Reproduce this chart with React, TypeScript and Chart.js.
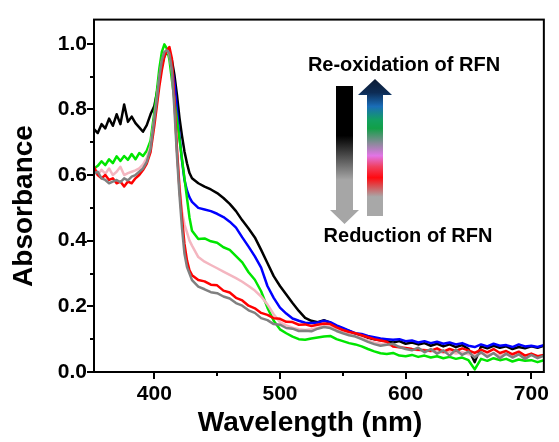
import React, { useEffect, useRef } from "react";
import { Chart, registerables } from "chart.js";

Chart.register(...registerables);

// ---------- data ----------
const wavelengths = [
  352, 355, 358, 361, 364, 367, 370, 373, 376, 379, 382, 385, 388, 391, 394, 397,
  400, 402, 404, 406, 408, 410, 412, 414, 416, 418, 420, 422, 424, 426, 428, 430,
  435, 440, 445, 450, 455, 460, 465, 470, 475, 480,
  485, 490, 495, 500, 505, 510, 515, 520, 525, 530,
  535, 540, 545, 550, 555, 560, 565, 570, 575, 580,
  585, 590, 595, 600, 605, 610, 615, 620, 625, 630,
  635, 640, 645, 650, 655, 660, 665, 670, 675, 680,
  685, 690, 695, 700, 705, 710,
];

const blackSeries = [
  0.74, 0.728, 0.755, 0.742, 0.772, 0.75, 0.785, 0.755, 0.815, 0.762, 0.778, 0.758, 0.745, 0.732, 0.752, 0.785,
  0.81, 0.85, 0.895, 0.935, 0.962, 0.975, 0.97, 0.95, 0.905, 0.845, 0.775, 0.72, 0.672, 0.636, 0.606, 0.59,
  0.575, 0.565, 0.556, 0.545, 0.53, 0.512, 0.49, 0.462, 0.437, 0.41,
  0.372, 0.332, 0.292, 0.262, 0.236, 0.21, 0.186, 0.165, 0.156, 0.152,
  0.158, 0.15, 0.14, 0.132, 0.125, 0.116, 0.112, 0.104, 0.1, 0.097,
  0.094, 0.09, 0.094, 0.086, 0.09, 0.084, 0.088, 0.08, 0.086, 0.078,
  0.084, 0.076, 0.082, 0.07, 0.03, 0.078, 0.072, 0.08, 0.074, 0.078,
  0.07, 0.076, 0.072, 0.078, 0.074, 0.08,
];

const blueSeries = [
  0.605, 0.61, 0.59, 0.585, 0.575, 0.58, 0.585, 0.578, 0.59, 0.584, 0.595, 0.6, 0.61, 0.62, 0.64, 0.68,
  0.77, 0.835, 0.9, 0.948, 0.972, 0.98, 0.965, 0.93, 0.88, 0.8, 0.72, 0.645, 0.585, 0.553, 0.532, 0.518,
  0.5, 0.495, 0.49, 0.482, 0.472, 0.458, 0.44, 0.41, 0.382, 0.352,
  0.318, 0.262, 0.226, 0.196, 0.178, 0.163, 0.156, 0.15, 0.149, 0.151,
  0.156, 0.152, 0.142, 0.134, 0.126, 0.118, 0.116, 0.11, 0.106, 0.102,
  0.1, 0.098, 0.1, 0.094, 0.096, 0.09, 0.094, 0.088, 0.092, 0.086,
  0.09, 0.084, 0.088, 0.08, 0.076, 0.084, 0.078, 0.086, 0.08, 0.082,
  0.076, 0.084, 0.078, 0.08, 0.076, 0.082,
];

const greenSeries = [
  0.62, 0.628, 0.642, 0.63, 0.648, 0.636, 0.657, 0.643, 0.658, 0.646, 0.664, 0.648, 0.667, 0.658, 0.674, 0.705,
  0.79, 0.855, 0.925, 0.975, 0.998, 0.985, 0.952, 0.89, 0.83, 0.77, 0.71, 0.65, 0.59, 0.53, 0.47, 0.43,
  0.405, 0.407, 0.398, 0.394, 0.38, 0.372, 0.353, 0.334, 0.304, 0.281,
  0.246, 0.196, 0.156, 0.13, 0.118, 0.108, 0.1, 0.098, 0.102, 0.105,
  0.108, 0.11, 0.1, 0.094, 0.088, 0.084, 0.078, 0.07, 0.063, 0.057,
  0.055, 0.058, 0.05, 0.048, 0.052, 0.046, 0.05, 0.044, 0.048, 0.042,
  0.046, 0.04, 0.044, 0.036, 0.008, 0.04, 0.034, 0.042, 0.036, 0.04,
  0.032, 0.038, 0.034, 0.036, 0.03, 0.036,
];

const pinkSeries = [
  0.61, 0.6, 0.616, 0.604, 0.62, 0.6, 0.61, 0.625, 0.6, 0.606, 0.61, 0.614, 0.62, 0.632, 0.652, 0.69,
  0.77, 0.83, 0.895, 0.945, 0.972, 0.98, 0.968, 0.92, 0.82, 0.68, 0.57, 0.49, 0.45, 0.425, 0.4, 0.385,
  0.35, 0.336, 0.326, 0.316, 0.306, 0.296, 0.286, 0.275, 0.262, 0.248,
  0.23, 0.206, 0.176, 0.152, 0.142, 0.135, 0.13, 0.128, 0.13, 0.134,
  0.14, 0.138, 0.128, 0.12, 0.114, 0.11, 0.104, 0.096, 0.09, 0.086,
  0.084, 0.08, 0.078, 0.072, 0.07, 0.066, 0.068, 0.062, 0.066, 0.058,
  0.062, 0.056, 0.06, 0.054, 0.05, 0.058, 0.052, 0.056, 0.05, 0.054,
  0.048, 0.054, 0.05, 0.052, 0.046, 0.052,
];

const redSeries = [
  0.625, 0.6, 0.59, 0.6, 0.585, 0.59, 0.575, 0.58, 0.565, 0.58, 0.575, 0.59, 0.6, 0.615, 0.635, 0.67,
  0.75, 0.81, 0.87, 0.92, 0.96, 0.98, 0.99, 0.955, 0.83, 0.68, 0.56, 0.47, 0.39, 0.34, 0.31, 0.295,
  0.28, 0.276, 0.266, 0.264, 0.248, 0.242, 0.226, 0.218, 0.202, 0.194,
  0.18, 0.174, 0.164, 0.162, 0.153, 0.152, 0.144, 0.145, 0.14, 0.144,
  0.148, 0.146, 0.136, 0.128, 0.122, 0.118, 0.112, 0.106, 0.1, 0.096,
  0.092, 0.078, 0.075, 0.073, 0.07, 0.068, 0.066, 0.065, 0.072, 0.062,
  0.07, 0.064, 0.072, 0.066, 0.058, 0.068, 0.06, 0.07, 0.058, 0.064,
  0.054, 0.062, 0.05, 0.056, 0.048, 0.052,
];

const graySeries = [
  0.605, 0.61, 0.59, 0.585, 0.575, 0.58, 0.585, 0.578, 0.59, 0.584, 0.595, 0.6, 0.61, 0.62, 0.64, 0.68,
  0.77, 0.83, 0.9, 0.95, 0.975, 0.98, 0.97, 0.92, 0.8, 0.66, 0.54, 0.44, 0.36, 0.32, 0.3, 0.28,
  0.26, 0.252, 0.243, 0.24, 0.23, 0.224, 0.21, 0.202, 0.188, 0.18,
  0.164, 0.158, 0.146, 0.144, 0.134, 0.132, 0.125, 0.126, 0.124, 0.132,
  0.137, 0.134, 0.125, 0.118, 0.112, 0.108, 0.1, 0.092, 0.085, 0.08,
  0.083, 0.086, 0.076, 0.07, 0.066, 0.074, 0.06, 0.07, 0.056, 0.066,
  0.05, 0.068, 0.052, 0.062, 0.044, 0.06, 0.046, 0.058, 0.042, 0.056,
  0.044, 0.054, 0.04, 0.052, 0.042, 0.05,
];

const xTickValues = [400, 500, 600, 700];
const xMinorTicks = [450, 550, 650];
const yTickValues = [0, 0.2, 0.4, 0.6, 0.8, 1.0];
const yMinorTicks = [0.1, 0.3, 0.5, 0.7, 0.9];

const xTitle = "Wavelength (nm)";
const yTitle = "Absorbance";
const upLabel = "Re-oxidation of RFN";
const downLabel = "Reduction of RFN";

const FONT = '"Liberation Sans", Arial, Helvetica, sans-serif';

const decorPlugin = {
  id: "decor",
  afterDraw(chart: any) {
    const ctx = chart.ctx as CanvasRenderingContext2D;
    const { left, right, top, bottom } = chart.chartArea;
    const xs = chart.scales.x;
    const ys = chart.scales.y;
    ctx.save();
    // frame
    ctx.strokeStyle = "#000";
    ctx.lineWidth = 2;
    ctx.strokeRect(left, top, right - left, bottom - top);
    // ticks
    ctx.beginPath();
    for (const v of xTickValues) {
      const px = Math.round(xs.getPixelForValue(v));
      ctx.moveTo(px, bottom);
      ctx.lineTo(px, bottom + 7);
    }
    for (const v of xMinorTicks) {
      const px = Math.round(xs.getPixelForValue(v));
      ctx.moveTo(px, bottom);
      ctx.lineTo(px, bottom + 4);
    }
    for (const v of yTickValues) {
      const py = Math.round(ys.getPixelForValue(v));
      ctx.moveTo(left, py);
      ctx.lineTo(left - 7, py);
    }
    for (const v of yMinorTicks) {
      const py = Math.round(ys.getPixelForValue(v));
      ctx.moveTo(left, py);
      ctx.lineTo(left - 4, py);
    }
    ctx.stroke();

    // axis titles
    ctx.fillStyle = "#000";
    ctx.font = `bold 28px ${FONT}`;
    ctx.textAlign = "center";
    ctx.textBaseline = "middle";
    ctx.fillText(xTitle, 310, 423);
    ctx.save();
    ctx.translate(24, 206);
    ctx.rotate(-Math.PI / 2);
    ctx.fillText(yTitle, 0, 0);
    ctx.restore();

    // down arrow (black -> gray)
    const dg = ctx.createLinearGradient(0, 86, 0, 224);
    dg.addColorStop(0, "#000000");
    dg.addColorStop(0.36, "#000000");
    dg.addColorStop(0.68, "#a6a6a6");
    dg.addColorStop(1, "#a6a6a6");
    ctx.fillStyle = dg;
    ctx.beginPath();
    ctx.moveTo(336, 86);
    ctx.lineTo(353, 86);
    ctx.lineTo(353, 210);
    ctx.lineTo(359, 210);
    ctx.lineTo(344.5, 224);
    ctx.lineTo(330, 210);
    ctx.lineTo(336, 210);
    ctx.closePath();
    ctx.fill();

    // up arrow (colour gradient)
    const ug = ctx.createLinearGradient(0, 79, 0, 216);
    ug.addColorStop(0, "#0b1a33");
    ug.addColorStop(0.1, "#0d2c55");
    ug.addColorStop(0.2, "#1a6db8");
    ug.addColorStop(0.3, "#12a060");
    ug.addColorStop(0.36, "#12a048");
    ug.addColorStop(0.47, "#8a8a9a");
    ug.addColorStop(0.56, "#e274e6");
    ug.addColorStop(0.64, "#f04060");
    ug.addColorStop(0.72, "#ff0a10");
    ug.addColorStop(0.86, "#a8a8a8");
    ug.addColorStop(1, "#a8a8a8");
    ctx.fillStyle = ug;
    ctx.beginPath();
    ctx.moveTo(367, 216);
    ctx.lineTo(383, 216);
    ctx.lineTo(383, 95);
    ctx.lineTo(392, 95);
    ctx.lineTo(375, 79);
    ctx.lineTo(358, 95);
    ctx.lineTo(367, 95);
    ctx.closePath();
    ctx.fill();

    // labels
    ctx.fillStyle = "#000";
    ctx.font = `bold 20px ${FONT}`;
    ctx.textAlign = "center";
    ctx.textBaseline = "middle";
    ctx.fillText(upLabel, 404, 65);
    ctx.fillText(downLabel, 408, 236);
    ctx.restore();
  },
};

function toPoints(series: number[]) {
  return wavelengths.map((x, i) => ({ x, y: series[i] }));
}

export default function App() {
  const canvasRef = useRef<HTMLCanvasElement | null>(null);

  useEffect(() => {
    document.body.style.margin = "0";
    const canvas = canvasRef.current;
    if (!canvas) return;
    const mk = (label: string, data: number[], color: string, extra: any = {}) => ({
      label,
      data: toPoints(data),
      borderColor: color,
      backgroundColor: color,
      borderWidth: 2.5,
      pointRadius: 0,
      tension: 0,
      fill: false,
      borderJoinStyle: "round" as const,
      ...extra,
    });
    const chart = new Chart(canvas, {
      type: "line",
      data: {
        datasets: [
          mk("gray", graySeries, "#808080"),
          mk("red", redSeries, "#ff0000"),
          mk("pink", pinkSeries, "#f4b6c0"),
          mk("green", greenSeries, "#00e600"),
          mk("blue", blueSeries, "#0000ff", {
            segment: {
              borderWidth: (c: any) => (c.p1.parsed.x <= 400 ? 1 : 2.5),
            },
          }),
          mk("black", blackSeries, "#000000"),
        ],
      },
      options: {
        animation: false,
        responsive: false,
        maintainAspectRatio: false,
        devicePixelRatio: 1,
        layout: { padding: { top: 7, right: 7, left: 0, bottom: 0 } },
        plugins: {
          legend: { display: false },
          tooltip: { enabled: false },
          title: { display: false },
        },
        scales: {
          x: {
            type: "linear",
            min: 352,
            max: 710,
            afterBuildTicks: (scale: any) => {
              scale.ticks = xTickValues.map((v) => ({ value: v }));
            },
            afterFit: (scale: any) => {
              scale.height = 70;
            },
            grid: { display: false, drawTicks: false },
            border: { display: false },
            ticks: {
              color: "#000",
              font: { family: FONT, size: 21, weight: "bold" },
              padding: 10,
              maxRotation: 0,
              callback: (v: any) => String(v),
            },
          },
          y: {
            type: "linear",
            min: 0,
            max: 1.0735,
            afterBuildTicks: (scale: any) => {
              scale.ticks = yTickValues.map((v) => ({ value: v }));
            },
            afterFit: (scale: any) => {
              scale.width = 94;
            },
            grid: { display: false, drawTicks: false },
            border: { display: false },
            ticks: {
              color: "#000",
              font: { family: FONT, size: 21, weight: "bold" },
              padding: 7,
              callback: (v: any) => Number(v).toFixed(1),
            },
          },
        },
      },
      plugins: [decorPlugin],
    });
    return () => chart.destroy();
  }, []);

  return (
    <div style={{ width: 559, height: 442, position: "relative", background: "#fff" }}>
      <canvas ref={canvasRef} width={559} height={442} style={{ display: "block" }} />
    </div>
  );
}
